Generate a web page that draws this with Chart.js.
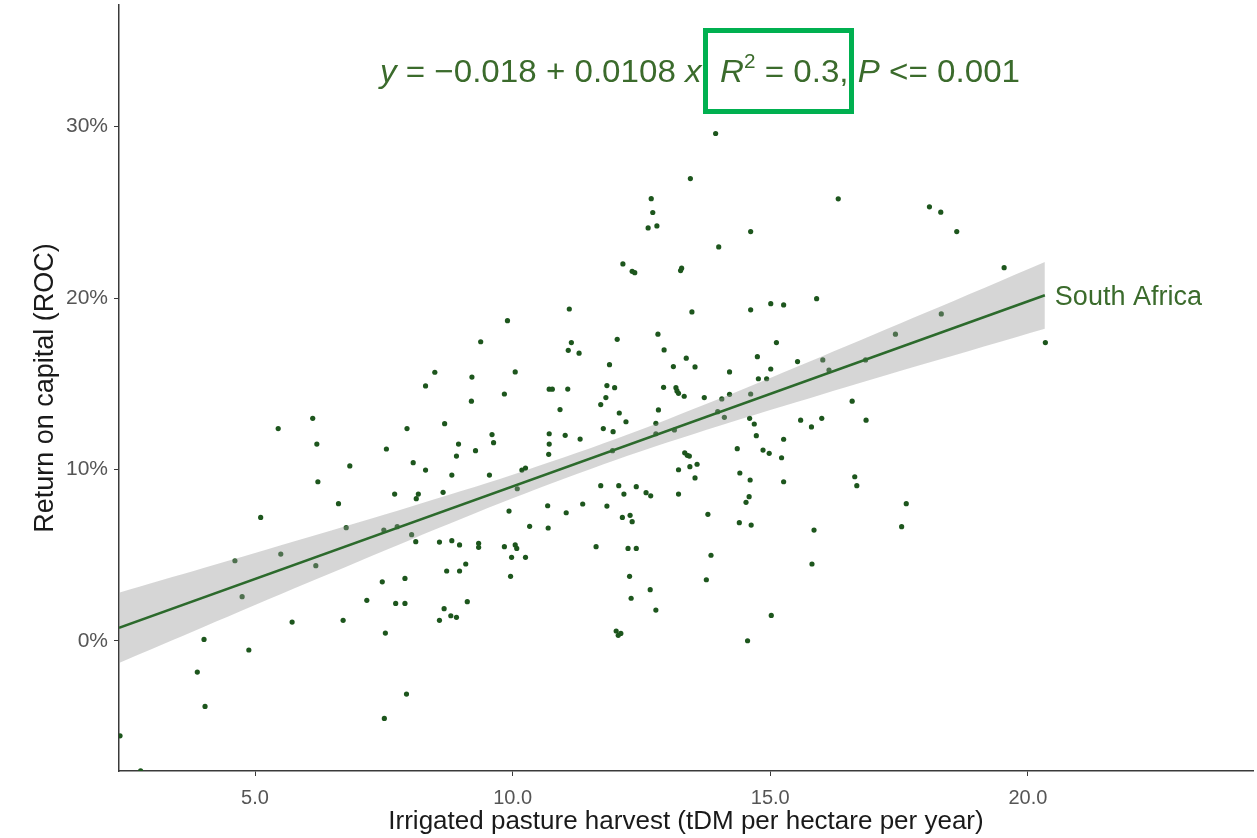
<!DOCTYPE html>
<html><head><meta charset="utf-8">
<script src="https://cdn.jsdelivr.net/npm/chart.js@4.4.1/dist/chart.umd.min.js"></script>
<style>html,body{margin:0;padding:0;background:#fff;overflow:hidden}#wrap{width:1257px;height:838px;position:relative}</style>
</head><body><div id="wrap"><canvas id="c" width="1257" height="838"></canvas></div>
<script>
// ---- data ----
const xTicks = [5, 10, 15, 20];
const yTicks = [0, 10, 20, 30];
const harvest = [13.94,13.45,12.69,12.72,12.63,12.80,14.00,12.14,12.32,12.37,13.26,13.28,11.10,9.90,13.48,14.62,16.32,18.09,18.31,18.62,19.54,14.62,15.01,15.26,15.90,18.32,
8.31,5.45,6.12,6.20,7.95,7.55,6.84,8.07,8.31,6.22,7.71,8.17,8.13,6.62,5.11,6.77,7.50,7.76,8.04,8.12,
9.38,11.14,11.08,11.29,12.03,12.82,12.94,8.49,9.21,10.05,11.88,13.12,13.37,13.54,14.21,9.84,9.20,10.71,10.77,11.07,11.83,11.98,11.81,11.71,12.93,13.17,13.19,13.22,13.33,13.72,14.06,14.21,
10.92,12.07,12.20,12.83,12.78,8.68,9.60,9.63,8.95,8.91,9.28,10.71,10.71,10.70,11.02,11.31,11.76,11.95,12.78,13.14,13.98,14.11,11.94,14.36,13.34,13.39,13.43,13.22,13.44,13.58,13.54,14.41,
8.82,9.55,10.18,10.25,10.09,8.65,11.71,12.06,12.16,12.40,12.59,12.68,13.22,10.68,11.36,11.83,9.93,11.04,13.79,14.53,12.13,12.28,12.32,14.40,10.33,10.69,8.58,8.82,8.97,9.34,9.34,9.84,10.05,10.08,11.62,12.24,12.40,
17.43,20.34,15.12,14.75,15.53,16.02,15.01,14.77,14.93,16.14,16.85,14.62,16.59,14.60,14.69,15.59,15.80,16.00,16.86,14.73,15.26,14.86,14.98,15.22,14.61,15.26,16.64,16.68,14.59,17.64,14.63,15.85,17.55,
4.61,5.50,6.18,4.75,7.47,7.91,7.17,7.73,7.91,5.72,6.71,7.53,4.01,4.88,3.88,4.03,7.94,7.51,2.38,2.78,
13.85,9.98,10.25,9.09,8.72,8.97,9.96,12.27,13.76,12.67,12.30,9.12,8.67,12.78,8.58,8.80,8.91,12.01,12.10,12.05,14.56,15.81,15.02];
const roc = [29.60,26.97,25.80,24.99,24.09,24.21,22.98,21.99,21.56,21.48,21.60,21.74,19.36,18.68,19.19,23.88,25.79,25.32,25.01,23.88,21.77,19.31,19.67,19.60,19.96,19.07,
14.87,12.38,12.98,11.48,12.38,11.19,10.20,10.39,9.96,9.28,8.56,8.56,8.29,8.00,7.20,6.60,6.46,6.66,6.19,5.78,
17.45,17.40,16.95,16.78,17.59,17.89,16.97,15.67,15.39,15.69,16.11,16.00,16.49,15.98,15.69,14.40,13.98,14.68,14.68,14.69,14.89,14.77,14.19,13.78,14.79,14.77,14.58,14.44,14.27,14.19,14.11,14.38,
13.49,13.29,12.78,13.47,12.69,12.67,12.03,11.56,11.48,10.78,11.09,12.08,11.48,10.88,11.99,11.77,12.38,12.20,12.08,12.30,13.37,13.04,11.09,11.21,10.97,10.82,10.78,9.98,10.16,10.30,9.50,9.79,
9.67,9.67,9.96,10.08,8.87,8.66,9.05,9.05,8.56,8.99,8.64,8.46,8.56,7.88,7.98,7.86,7.57,7.47,7.38,8.08,7.20,7.32,6.95,6.89,6.68,6.58,5.76,5.84,5.59,5.69,5.45,5.49,5.59,5.39,5.49,5.39,5.39,
17.89,17.40,17.40,16.58,16.29,16.39,15.86,15.29,15.29,15.80,16.39,14.40,13.98,12.98,12.65,12.87,12.48,12.98,12.87,11.97,11.76,11.13,10.94,10.68,9.38,9.28,9.57,9.05,8.41,8.00,6.75,6.46,6.66,
4.67,5.06,4.38,2.57,3.44,3.64,2.36,2.18,2.18,1.09,1.19,0.45,0.08,-0.54,-1.83,-3.83,-3.11,-4.53,-5.55,-7.59,
4.99,4.87,4.87,4.48,4.07,4.07,3.76,3.76,3.56,2.98,2.48,2.28,1.87,1.79,1.19,1.46,1.37,0.57,0.43,0.32,0.00,4.48,1.48];
// fitted line (y = -0.018 + 0.0108 x, in %), endpoints
const fitX = [2.36, 20.33];
const fitY = [0.75, 20.16];
// confidence band edges
const bandX =     [2.36, 4, 6, 8, 10, 12, 14, 16, 18, 20.33];
const bandUpper = [2.80, 4.24, 6.01, 7.81, 9.69, 11.77, 14.11, 16.59, 19.12, 22.11];
const bandLower = [-1.30, 0.80, 3.35, 5.87, 8.31, 10.55, 12.53, 14.37, 16.16, 18.21];
const seriesLabel = 'South Africa';
const xTitle = 'Irrigated pasture harvest (tDM per hectare per year)';
const yTitle = 'Return on capital (ROC)';

const pts = harvest.map((x, i) => ({x, y: roc[i]}));
const fitPts = fitX.map((x, i) => ({x, y: fitY[i]}));
const upPts = bandX.map((x, i) => ({x, y: bandUpper[i]}));
const loPts = bandX.map((x, i) => ({x, y: bandLower[i]}));

const FONT = '"Liberation Sans", Arial, sans-serif';
const GREEN_TXT = '#3b6b2c';

const annot = {
  id: 'annot',
  afterDraw(chart) {
    const ctx = chart.ctx;
    const xs = chart.scales.x, ys = chart.scales.y;
    // series label at line end
    ctx.save();
    ctx.fillStyle = GREEN_TXT;
    ctx.font = '27px ' + FONT;
    ctx.textBaseline = 'middle';
    ctx.textAlign = 'left';
    ctx.fillText(seriesLabel, xs.getPixelForValue(fitX[1]) + 10, ys.getPixelForValue(fitY[1]) + 2);
    ctx.restore();

    // equation
    const parts = [
      {t: 'y', it: true}, {t: ' = '}, {t: '\u22120.018'}, {t: ' + '}, {t: '0.0108 '},
      {t: 'x', it: true}, {t: '  '}, {t: 'R', it: true}, {t: '2', sup: true}, {t: ' = 0.3, '},
      {t: 'P', it: true}, {t: ' <= 0.001'}
    ];
    const fs = 32;
    const fontFor = p => (p.it ? 'italic ' : '') + (p.sup ? Math.round(fs * 0.62) : fs) + 'px ' + FONT;
    ctx.save();
    let total = 0;
    parts.forEach(p => { ctx.font = fontFor(p); p.w = ctx.measureText(p.t).width; total += p.w; });
    const left = 380, right = 1020, base = 82;
    const sx = (right - left) / total;
    ctx.translate(left, base);
    ctx.scale(sx, 1);
    ctx.fillStyle = GREEN_TXT;
    ctx.textBaseline = 'alphabetic';
    let cx = 0;
    parts.forEach(p => {
      ctx.font = fontFor(p);
      ctx.fillText(p.t, cx, p.sup ? -fs * 0.45 : 0);
      cx += p.w;
    });
    ctx.restore();

    // highlight box
    ctx.save();
    ctx.strokeStyle = '#00b050';
    ctx.lineWidth = 5;
    ctx.strokeRect(705.5, 30.5, 146, 81);
    ctx.restore();
  }
};

Chart.defaults.font.family = FONT;

new Chart(document.getElementById('c'), {
  type: 'scatter',
  data: {
    datasets: [
      {label: 'fit', data: fitPts, showLine: true, borderColor: '#2c6a2c', borderWidth: 2.5,
       pointRadius: 0, fill: false, order: 0},
      {label: 'lower', data: loPts, showLine: true, borderColor: 'rgba(0,0,0,0)', borderWidth: 0,
       pointRadius: 0, fill: false, order: 1, tension: 0.3},
      {label: 'upper', data: upPts, showLine: true, borderColor: 'rgba(0,0,0,0)', borderWidth: 0,
       pointRadius: 0, fill: 1, backgroundColor: 'rgba(153,153,153,0.4)', order: 1, tension: 0.3},
      {label: 'farms', data: pts, pointRadius: 2.6, pointBackgroundColor: '#1d561d',
       pointBorderColor: '#1d561d', pointBorderWidth: 0, order: 2}
    ]
  },
  options: {
    responsive: false,
    devicePixelRatio: 1,
    animation: false,
    layout: {padding: {top: 5, right: 0, left: 0, bottom: 0}},
    plugins: {legend: {display: false}, tooltip: {enabled: false}},
    scales: {
      x: {
        type: 'linear', min: 2.36, max: 24.37,
        afterBuildTicks: s => { s.ticks = xTicks.map(v => ({value: v})); },
        afterFit: s => { s.height = 67; s.paddingLeft = 0; s.paddingRight = 0; },
        border: {display: true, color: '#3a3a3a', width: 1.5},
        grid: {display: true, drawOnChartArea: false, drawTicks: true, tickLength: 5, color: '#3a3a3a'},
        ticks: {color: '#555555', font: {size: 20}, padding: 10, maxRotation: 0,
                callback: v => Number(v).toFixed(1)},
        title: {display: true, text: xTitle, color: '#1a1a1a', font: {size: 26}, padding: {top: 0, bottom: 1}}
      },
      y: {
        type: 'linear', min: -7.6, max: 37.1,
        afterBuildTicks: s => { s.ticks = yTicks.map(v => ({value: v})); },
        afterFit: s => { s.width = 119; s.paddingTop = 0; s.paddingBottom = 0; },
        border: {display: true, color: '#3a3a3a', width: 1.5},
        grid: {display: true, drawOnChartArea: false, drawTicks: true, tickLength: 5, color: '#3a3a3a'},
        ticks: {color: '#555555', font: {size: 21}, padding: 6, callback: v => v + '%'},
        title: {display: true, text: yTitle, color: '#1a1a1a', font: {size: 27}, padding: {top: 29, bottom: 0}}
      }
    }
  },
  plugins: [annot]
});
</script>
</body></html>
